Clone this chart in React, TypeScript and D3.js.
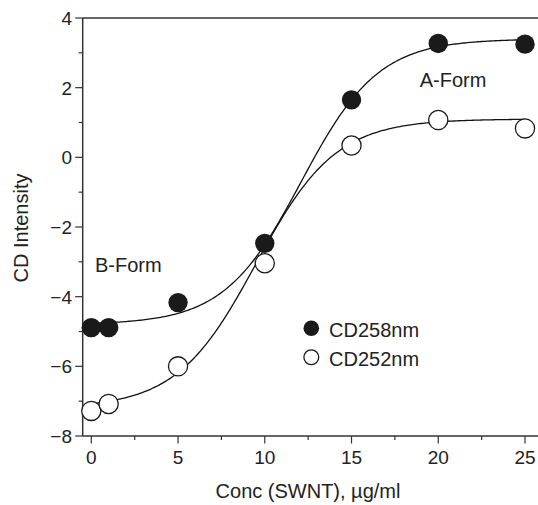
import React from "react";
import * as d3 from "d3";

// Measured CD intensity vs SWNT concentration
const conc = [0, 1, 5, 10, 15, 20, 25];
const cd258 = [-4.89, -4.89, -4.17, -2.47, 1.65, 3.27, 3.25];
const cd252 = [-7.28, -7.08, -6.0, -3.04, 0.34, 1.07, 0.83];

// Boltzmann sigmoid fit parameters [A1, A2, x0, dx]
const fit258 = [-4.8, 3.4, 12.1, 2.22];
const fit252 = [-7.2, 1.1, 9.5, 2.29];

const xTicks = [0, 5, 10, 15, 20, 25];
const xMinor = [2.5, 7.5, 12.5, 17.5, 22.5];
const yTicks = [4, 2, 0, -2, -4, -6, -8];
const yMinor = [3, 1, -1, -3, -5, -7];

const W = 538;
const H = 505;
const FONT = "'Liberation Sans', Arial, Helvetica, sans-serif";
const INK = "#222";

const x = d3.scaleLinear().domain([0, 25]).range([91.3, 525]);
const y = d3.scaleLinear().domain([-8, 4]).range([436, 18]);

function boltzmann(p: number[], v: number) {
  const [a1, a2, x0, dx] = p;
  return a2 + (a1 - a2) / (1 + Math.exp((v - x0) / dx));
}

const samples = d3.range(0, 25.001, 0.1);
const line = d3
  .line<number>()
  .x((v) => x(v))
  .y((v) => y(v))
  .curve(d3.curveLinear);

function fitPath(p: number[]) {
  return d3
    .line<number>()
    .x((v) => x(v))
    .y((v) => y(boltzmann(p, v)))(samples) as string;
}

export default function App() {
  const axisX0 = 82.7;
  const axisRight = 538;
  const top = y(4);
  const bottom = y(-8);
  void line;
  return (
    <svg
      width={W}
      height={H}
      style={{ position: "absolute", left: 0, top: 0, background: "#fff" }}
      fontFamily={FONT}
    >
      {/* frame: left axis, bottom axis, top rule */}
      <g stroke="#333" strokeWidth={1.5} fill="none">
        <line x1={axisX0} x2={axisX0} y1={top} y2={bottom} />
        <line x1={axisX0} x2={axisRight} y1={bottom} y2={bottom} />
        <line x1={axisX0} x2={axisRight} y1={top} y2={top} />
      </g>

      {/* y ticks */}
      <g stroke="#333" strokeWidth={1.2}>
        {yTicks.map((t) => (
          <line key={"ym" + t} x1={axisX0 - 7.5} x2={axisX0} y1={y(t)} y2={y(t)} />
        ))}
        {yMinor.map((t) => (
          <line key={"yn" + t} x1={axisX0 - 4} x2={axisX0} y1={y(t)} y2={y(t)} />
        ))}
        {xTicks.map((t) => (
          <line key={"xm" + t} x1={x(t)} x2={x(t)} y1={bottom} y2={bottom + 7.5} />
        ))}
        {xMinor.map((t) => (
          <line key={"xn" + t} x1={x(t)} x2={x(t)} y1={bottom} y2={bottom + 4} />
        ))}
      </g>

      <g fill={INK} fontSize={19}>
        {yTicks.map((t) => (
          <text key={"yl" + t} x={72} y={y(t)} dy="0.36em" textAnchor="end">
            {t < 0 ? "\u2212" + Math.abs(t) : String(t)}
          </text>
        ))}
        {xTicks.map((t) => (
          <text key={"xl" + t} x={x(t)} y={463.5} textAnchor="middle">
            {t}
          </text>
        ))}
      </g>

      {/* axis titles */}
      <text
        x={308}
        y={497.5}
        textAnchor="middle"
        fontSize={20}
        fill={INK}
      >
        Conc (SWNT), µg/ml
      </text>
      <text
        transform={`translate(28,${228}) rotate(-90)`}
        textAnchor="middle"
        fontSize={20}
        fill={INK}
      >
        CD Intensity
      </text>

      {/* fitted curves */}
      <path d={fitPath(fit258)} fill="none" stroke="#111" strokeWidth={1.3} />
      <path d={fitPath(fit252)} fill="none" stroke="#111" strokeWidth={1.3} />

      {/* data points */}
      {conc.map((c, i) => (
        <circle key={"f" + i} cx={x(c)} cy={y(cd258[i])} r={9.7} fill="#1a1a1a" />
      ))}
      {conc.map((c, i) => (
        <circle
          key={"o" + i}
          cx={x(c)}
          cy={y(cd252[i])}
          r={9.6}
          fill="#fff"
          stroke="#1a1a1a"
          strokeWidth={1.3}
        />
      ))}

      {/* annotations */}
      <text x={419.7} y={87.3} fontSize={20} fill={INK}>
        A-Form
      </text>
      <text x={95} y={272} fontSize={20} fill={INK}>
        B-Form
      </text>

      {/* legend */}
      <circle cx={311.3} cy={328.3} r={7.8} fill="#1a1a1a" />
      <text x={329} y={337} fontSize={20} fill={INK}>
        CD258nm
      </text>
      <circle cx={311.3} cy={357.3} r={7.4} fill="#fff" stroke="#1a1a1a" strokeWidth={1.3} />
      <text x={329} y={365.7} fontSize={20} fill={INK}>
        CD252nm
      </text>
    </svg>
  );
}
